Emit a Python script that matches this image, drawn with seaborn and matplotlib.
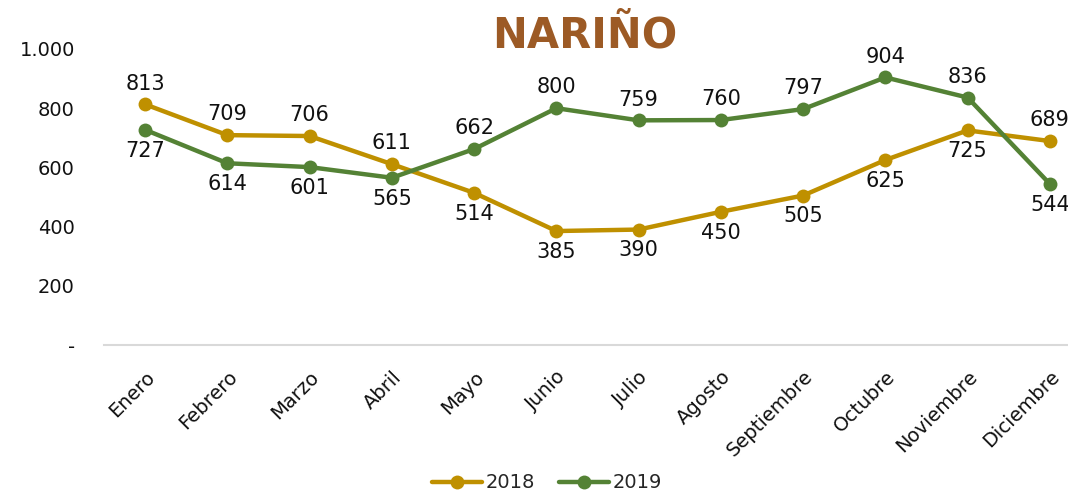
import matplotlib
matplotlib.use("Agg")
import matplotlib.pyplot as plt
import seaborn as sns
import pandas as pd
from matplotlib.lines import Line2D

months = ["Enero", "Febrero", "Marzo", "Abril", "Mayo", "Junio", "Julio",
          "Agosto", "Septiembre", "Octubre", "Noviembre", "Diciembre"]
values_2018 = [813, 709, 706, 611, 514, 385, 390, 450, 505, 625, 725, 689]
values_2019 = [727, 614, 601, 565, 662, 800, 759, 760, 797, 904, 836, 544]
years = ["2018", "2019"]
y_ticks = [0, 200, 400, 600, 800, 1000]
y_tick_labels = ["-", "200", "400", "600", "800", "1.000"]

# label placement: +1 above the point, -1 below
pos_2018 = [1, 1, 1, 1, -1, -1, -1, -1, -1, -1, -1, 1]
pos_2019 = [-1, -1, -1, -1, 1, 1, 1, 1, 1, 1, 1, -1]

colors = {"2018": "#BF9000", "2019": "#548235"}

df = pd.DataFrame({
    "mes": months * 2,
    "x": list(range(len(months))) * 2,
    "valor": values_2018 + values_2019,
    "anio": ["2018"] * 12 + ["2019"] * 12,
})

sns.set_theme(style="white")
plt.rcParams["font.family"] = ["DejaVu Sans"]

fig = plt.figure(figsize=(10.68, 4.97), dpi=100)
ax = fig.add_axes([104 / 1068, 152 / 497, 987 / 1068, 296 / 497])

sns.lineplot(data=df, x="x", y="valor", hue="anio", palette=colors,
             marker="o", markersize=10, linewidth=3.2, markeredgewidth=0,
             legend=False, ax=ax)

for vals, pos in [(values_2018, pos_2018), (values_2019, pos_2019)]:
    for i, (v, p) in enumerate(zip(vals, pos)):
        ax.annotate(f"{v}", (i, v), xytext=(0, 15 * p), textcoords="offset points",
                    ha="center", va="center", fontsize=15, color="#111111")

ax.set_xlim(-0.5, 11.5)
ax.set_ylim(0, 1000)
ax.set_yticks(y_ticks)
ax.set_yticklabels(y_tick_labels, fontsize=14, color="#111111")
ax.set_xticks(range(len(months)))
ax.set_xticklabels(months, rotation=45, ha="right", rotation_mode="anchor",
                   fontsize=14, color="#111111")
ax.tick_params(axis="x", length=0, pad=16)
ax.tick_params(axis="y", length=0, pad=21)
for s in ["top", "right", "left"]:
    ax.spines[s].set_visible(False)
ax.spines["bottom"].set_color("#d9d9d9")
ax.spines["bottom"].set_linewidth(1.5)
ax.set_xlabel("")
ax.set_ylabel("")
ax.patch.set_alpha(0)

fig.text(585 / 1068, 1 - 35 / 497, "NARIÑO", ha="center", va="center",
         fontsize=30, fontweight="bold", color="#9C5A25")

handles = [Line2D([0], [0], color=colors[y], linewidth=3.2, marker="o",
                  markersize=10, markeredgewidth=0) for y in years]
fig.legend(handles, years, loc="center", bbox_to_anchor=(547 / 1068, 1 - 483 / 497),
           ncol=2, frameon=False, fontsize=14, handlelength=2.6,
           columnspacing=1.2, handletextpad=0.2)

fig.savefig("out.png", dpi=100, facecolor="white")
